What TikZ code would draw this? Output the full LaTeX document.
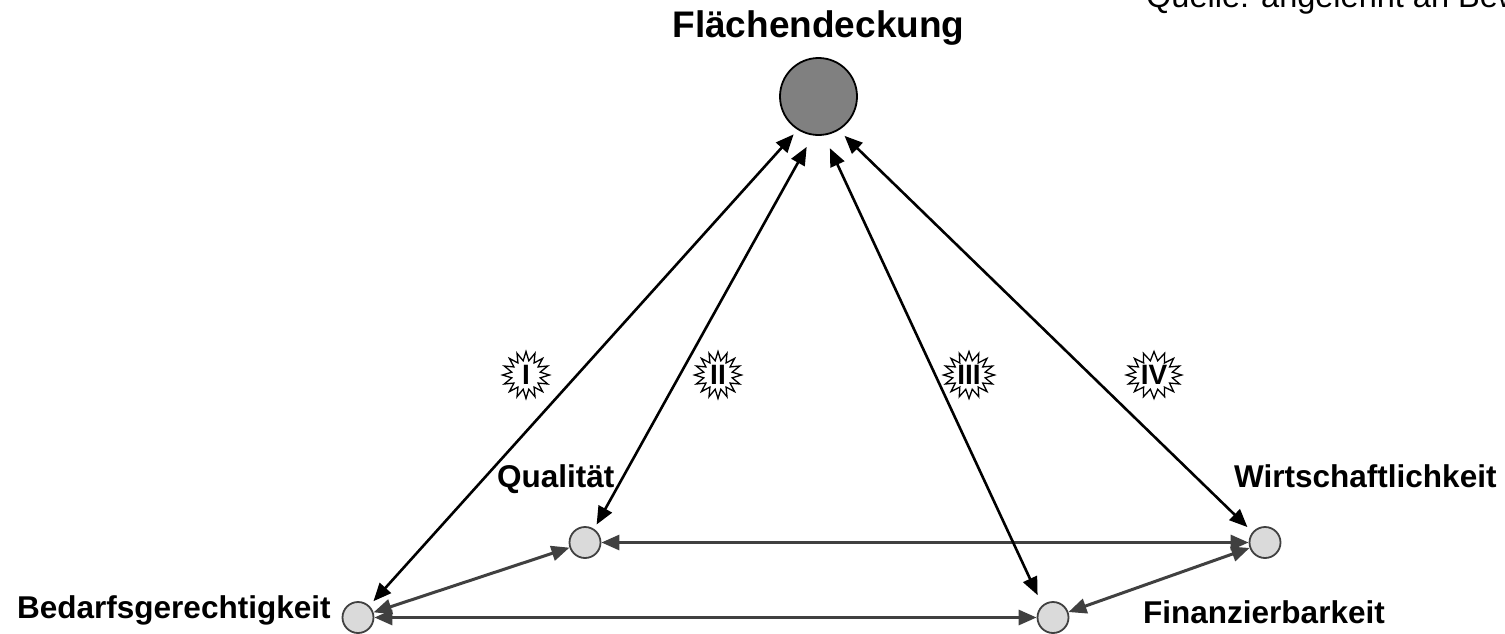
\documentclass[tikz,border=0pt]{standalone}
\usepackage{fontspec}
\setmainfont{Liberation Sans}
\usetikzlibrary{arrows.meta,shapes.symbols}
\definecolor{hubfill}{HTML}{808080}
\definecolor{dotfill}{HTML}{DADADA}
\definecolor{linkgray}{HTML}{404040}
\tikzset{
  hubnode/.style={circle, draw=black, line width=1.8pt, fill=hubfill, minimum size=77pt, inner sep=0pt},
  dotnode/.style={circle, draw=linkgray, line width=1.8pt, fill=dotfill, minimum size=31pt, inner sep=0pt},
  lbl/.style={font=\fontsize{31.5}{36}\selectfont\bfseries, inner sep=0pt},
  burst/.style={starburst, starburst points=16, starburst point height=9pt, random starburst=0,
    draw=black, fill=white, line width=1.3pt, minimum size=47pt, inner sep=0pt,
    font=\fontsize{28}{30}\selectfont\bfseries},
  bothtips/.style={{Triangle[length=18pt,width=15pt]}-{Triangle[length=18pt,width=15pt]}},
  mainlink/.style={bothtips, draw=black, line width=2.6pt},
  sidelink/.style={bothtips, draw=linkgray, line width=3pt},
}
\begin{document}
\begin{tikzpicture}[x=1pt,y=-1pt]
\useasboundingbox (0,0) rectangle (1505,633);

% source note in the upper right corner
\node[anchor=base west, inner sep=0pt, font=\fontsize{32.5}{36}\selectfont] (note) at (1146,7) {Quelle: angelehnt an Bew};

% central goal and the four sub-goals
\node[hubnode] (top) at (818.5,96.5) {};
\node[lbl, anchor=base] (toplbl) at (818.5,37) {\fontsize{37}{42}\selectfont Flächendeckung};

\node[dotnode] (bed)  at (358,617.5) {};
\node[dotnode] (qual) at (585,542.5) {};
\node[dotnode] (wirt) at (1265,542.5) {};
\node[dotnode] (fin)  at (1053,617.5) {};

\node[lbl, anchor=base west] (bedlbl)  at (17,618)  {Bedarfsgerechtigkeit};
\node[lbl, anchor=base west] (quallbl) at (497,487) {Qualität};
\node[lbl, anchor=base west] (wirtlbl) at (1234,487) {Wirtschaftlichkeit};
\node[lbl, anchor=base west] (finlbl)  at (1143,623) {Finanzierbarkeit};

% links among the sub-goals
\draw[sidelink] (bed) -- (fin);
\draw[sidelink] (bed) -- (qual);
\draw[sidelink] (qual) -- (wirt);
\draw[sidelink] (fin) -- (wirt);

% links from the central goal
\draw[mainlink, shorten <=6pt,  shorten >=6pt] (top.238)   -- (bed.46);
\draw[mainlink, shorten <=13pt, shorten >=5pt] (top.262.5) -- (qual.56);
\draw[mainlink, shorten <=14pt, shorten >=11pt] (top.278)  -- (fin.131);
\draw[mainlink, shorten <=8pt,  shorten >=7pt] (top.301.5) -- (wirt.140);

% conflict markers
\node[burst] (b1) at (526,375)   {I};
\node[burst] (b2) at (718,375)   {II};
\node[burst] (b3) at (969,375)   {III};
\node[burst] (b4) at (1154,375) {IV};
\end{tikzpicture}
\end{document}
